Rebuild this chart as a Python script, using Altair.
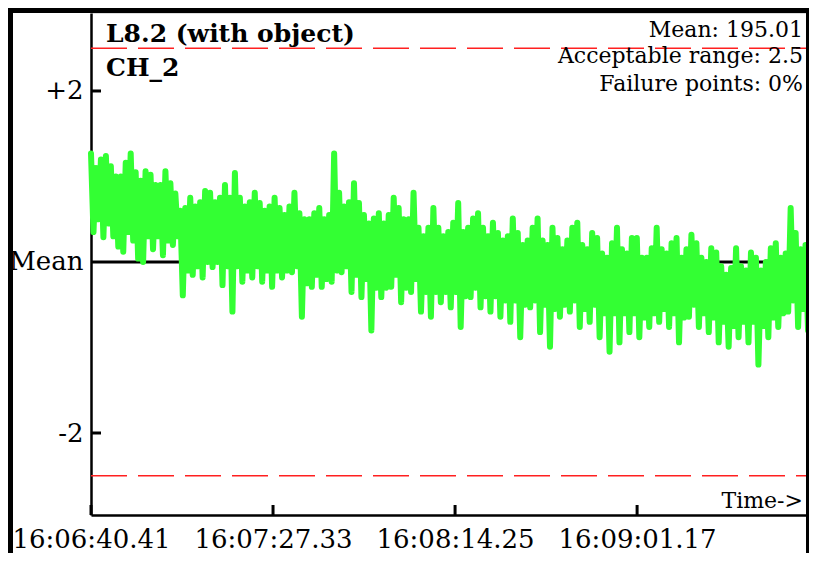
import altair as alt
import pandas as pd

# ---------------- data ----------------
# signal: deviation from the mean (units of the +/-2 axis), left to right
signal = [
    1.27, 0.35, 1.1, 0.5,  1.2, 0.29, 1.24, 0.45,  1.12, 0.3, 1.0, 0.18,  1.0, 0.12, 1.16, 0.35,
    1.27, 0.25, 1.05, 0.04,  0.95, 0.0, 1.06, 0.3,  1.02, 0.15, 0.9, 0.3,  0.9, 0.08, 1.06, 0.25,
    0.92, 0.2, 0.8, 0.3,  0.6, -0.39, 0.63, -0.1,  0.75, -0.15, 0.65, -0.05,  0.7, -0.18, 0.83, 0.0,
    0.81, -0.06, 0.7, 0.0,  0.75, -0.27, 0.9, -0.05,  0.75, -0.58, 1.04, -0.05,  0.75, -0.23, 0.65, -0.1,
    0.7, -0.18, 0.81, -0.05,  0.69, -0.23, 0.6, -0.1,  0.65, -0.29, 0.75, -0.1,  0.63, -0.18, 0.55, -0.1,
    0.65, -0.12, 0.81, -0.05,  0.57, -0.64, 0.5, -0.25,  0.5, -0.29, 0.57, -0.15,  0.63, -0.29, 0.5, -0.2,
    0.55, -0.23, 1.27, -0.1,  0.81, -0.12, 0.65, -0.05,  0.7, -0.35, 0.92, -0.15,  0.69, -0.41, 0.55, -0.2,
    0.45, -0.8, 0.51, -0.3,  0.57, -0.41, 0.45, -0.3,  0.55, -0.29, 0.75, -0.15,  0.63, -0.47, 0.5, -0.3,
    0.5, -0.35, 0.81, -0.2,  0.4, -0.58, 0.3, -0.35,  0.4, -0.64, 0.63, -0.35,  0.4, -0.47, 0.3, -0.35,
    0.35, -0.53, 0.46, -0.35,  0.69, -0.76, 0.35, -0.4,  0.4, -0.41, 0.51, -0.3,  0.57, -0.53, 0.4, -0.4,
    0.3, -0.58, 0.46, -0.4,  0.34, -0.64, 0.25, -0.45,  0.3, -0.7, 0.51, -0.45,  0.34, -0.88, 0.2, -0.5,
    0.25, -0.53, 0.4, -0.45,  0.51, -0.82, 0.25, -0.5,  0.2, -0.99, 0.4, -0.55,  0.28, -0.64, 0.15, -0.5,
    0.25, -0.58, 0.4, -0.45,  0.46, -0.76, 0.2, -0.55,  0.15, -0.7, 0.34, -0.5,  0.28, -0.88, 0.1, -0.6,
    0.05, -1.05, 0.22, -0.6,  0.4, -0.94, 0.15, -0.6,  0.1, -0.82, 0.28, -0.6,  0.28, -0.88, 0.05, -0.65,
    0.05, -0.76, 0.16, -0.6,  0.4, -0.7, 0.15, -0.55,  0.1, -0.76, 0.22, -0.6,  0.28, -0.94, 0.05, -0.65,
    0.15, -0.64, 0.32, -0.5,  0.22, -0.76, 0.05, -0.6,  0.0, -0.82, 0.16, -0.65,  0.11, -0.94, -0.05, -0.7,
    -0.15, -0.99, -0.07, -0.75,  0.16, -0.88, -0.05, -0.7,  -0.1, -0.94, 0.11, -0.7,  0.05, -1.2, -0.1, -0.75,
    0.0, -0.88, 0.16, -0.65,  0.22, -0.76, 0.05, -0.6,  0.1, -0.58, 0.63, -0.45,  0.34, -0.76, 0.15, -0.55,
    0.2, -0.8, 0.3, -0.6,
]
duration_s = 186.1            # seconds shown on the time axis
x_ticks = [0, 46.92, 93.84, 140.76]
x_labels = ["16:06:40.41", "16:07:27.33", "16:08:14.25", "16:09:01.17"]
y_ticks = [2, 0, -2]
y_labels = ["+2", "Mean", "-2"]
limits = [2.5, -2.5]
title_lines = ["L8.2 (with object)", "CH_2"]
stats_lines = ["Mean: 195.01", "Acceptable range: 2.5", "Failure points: 0%"]
y_domain = [-2.959, 2.912]

# ---------------- build ----------------
n = len(signal)
df = pd.DataFrame({"t": [i * duration_s / (n - 1) for i in range(n)], "v": signal})

W, H = 722, 502
FONT = "DejaVu Serif"

xs = alt.Scale(domain=[0, duration_s], nice=False, zero=False)
ys = alt.Scale(domain=y_domain, nice=False, zero=False)

x_expr = " : ".join(f"abs(datum.value - {v}) < 0.01 ? '{l}'" for v, l in zip(x_ticks, x_labels)) + " : ''"
y_expr = " : ".join(f"abs(datum.value - {v}) < 0.01 ? '{l}'" for v, l in zip(y_ticks, y_labels)) + " : ''"

base_axes = alt.Chart(df).mark_line(opacity=0).encode(
    x=alt.X("t:Q", scale=xs, axis=alt.Axis(values=x_ticks, labelExpr=x_expr, title=None, grid=False,
                                           ticks=False, tickSize=0, labelFontSize=26, labelColor="black",
                                           labelFont=FONT, labelPadding=11, domainColor="black",
                                           domainWidth=2.5, labelFlush=False, labelOverlap=False)),
    y=alt.Y("v:Q", scale=ys, axis=alt.Axis(values=y_ticks, labelExpr=y_expr, title=None, grid=False,
                                           ticks=False, tickSize=0, labelFontSize=26, labelColor="black",
                                           labelFont=FONT, labelPadding=8, domainColor="black",
                                           domainWidth=2.5, labelFlush=False, labelOverlap=False)),
)

mean_df = pd.DataFrame({"v": [0]})
mean_line = alt.Chart(mean_df).mark_rule(color="black", strokeWidth=3).encode(
    y=alt.Y("v:Q", scale=ys), x=alt.value(0), x2=alt.value(W))

sig = alt.Chart(df).mark_line(color="#33ff33", strokeWidth=6, strokeCap="round", strokeJoin="round").encode(
    x=alt.X("t:Q", scale=xs), y=alt.Y("v:Q", scale=ys))

lim_df = pd.DataFrame({"v": limits})
lim = alt.Chart(lim_df).mark_rule(color="#ff2020", strokeWidth=1.6, strokeDash=[36, 11]).encode(
    y=alt.Y("v:Q", scale=ys), x=alt.value(0), x2=alt.value(W + 4))

yt_df = pd.DataFrame({"v": [2, -2]})
ytick = alt.Chart(yt_df).mark_rule(color="black", strokeWidth=3).encode(
    y=alt.Y("v:Q", scale=ys), x=alt.value(0), x2=alt.value(10))

xt_df = pd.DataFrame({"t": x_ticks})
xtick = alt.Chart(xt_df).mark_rule(color="black", strokeWidth=3).encode(
    x=alt.X("t:Q", scale=xs), y=alt.value(H), y2=alt.value(H - 10))

title_df = pd.DataFrame({"s": title_lines, "yy": [29, 63]})
titles = alt.Chart(title_df).mark_text(font=FONT, fontSize=25, fontWeight="bold", align="left",
                                       baseline="alphabetic", color="black").encode(
    text="s:N", x=alt.value(15), y=alt.Y("yy:Q", scale=None))

stats_df = pd.DataFrame({"s": stats_lines, "yy": [24, 50, 78]})
stats = alt.Chart(stats_df).mark_text(font=FONT, fontSize=22, align="right",
                                      baseline="alphabetic", color="black").encode(
    text="s:N", x=alt.value(712), y=alt.Y("yy:Q", scale=None))

time_lbl = alt.Chart(pd.DataFrame({"s": ["Time->"]})).mark_text(
    font=FONT, fontSize=22, align="right", baseline="alphabetic", color="black").encode(
    text="s:N", x=alt.value(712), y=alt.value(495))

# panel frame of the surrounding figure (right edge drawn at the visible page edge)
frame_top = alt.Chart(pd.DataFrame({"a": [0]})).mark_rule(color="black", strokeWidth=7).encode(
    x=alt.value(-91), x2=alt.value(730), y=alt.value(-3.5))
frame_left = alt.Chart(pd.DataFrame({"a": [0]})).mark_rule(color="black", strokeWidth=7).encode(
    x=alt.value(-81.5), y=alt.value(-13), y2=alt.value(560))
frame_right = alt.Chart(pd.DataFrame({"a": [0]})).mark_rule(color="black", strokeWidth=3).encode(
    x=alt.value(W - 5.5), y=alt.value(-13), y2=alt.value(560))

chart = alt.layer(
    base_axes, mean_line, sig, lim, ytick, xtick, titles, stats, time_lbl,
    frame_top, frame_left, frame_right,
).properties(
    width=W, height=H,
    autosize=alt.AutoSizeParams(type="none"),
    padding={"left": 83, "top": 5, "right": -4, "bottom": 38},
).configure_view(stroke=None).configure(font=FONT)

chart.save("out.html", embed_options={"renderer": "svg", "actions": False})
